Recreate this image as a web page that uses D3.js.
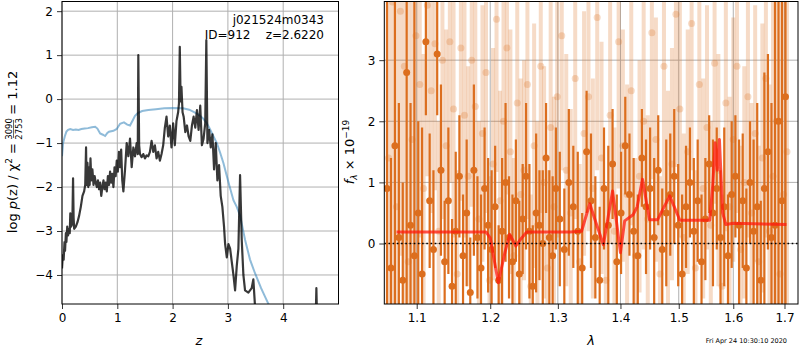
<!DOCTYPE html>
<html>
<head>
<meta charset="utf-8">
<script src="https://cdn.jsdelivr.net/npm/d3@7"></script>
<style>
body { margin: 0; background: #fff; }
text { font-family: "DejaVu Sans", sans-serif; }
</style>
</head>
<body>
<svg id="fig" width="800" height="350"></svg>
<script>
// ---- left panel: log p(z) ----
var pzZ = [0.00,0.015,0.03,0.045,0.055,0.07,0.08,0.095,0.11,0.125,0.14,0.15,0.165,0.18,0.19,0.20,0.21,0.22,0.25,0.28,
  0.31,0.34,0.37,0.40,0.42,0.435,0.445,0.46,0.475,0.49,0.50,0.515,0.53,0.55,0.57,0.59,0.61,0.63,0.65,0.67,
  0.69,0.71,0.73,0.75,0.77,0.79,0.81,0.83,0.85,0.87,0.89,0.91,0.93,0.95,0.97,0.99,1.01,1.03,1.05,1.07,
  1.09,1.11,1.14,1.17,1.20,1.23,1.26,1.29,1.32,1.35,1.37,1.38,1.395,1.41,1.44,1.47,1.50,1.53,1.56,1.59,
  1.62,1.65,1.68,1.71,1.74,1.77,1.80,1.83,1.86,1.89,1.92,1.95,1.98,2.01,2.04,2.07,2.10,2.115,2.13,2.145,
  2.16,2.18,2.20,2.23,2.26,2.29,2.32,2.35,2.38,2.41,2.44,2.47,2.50,2.53,2.56,2.59,2.61,2.63,2.66,2.69,
  2.72,2.75,2.78,2.81,2.84,2.87,2.90,2.93,2.95,2.98,3.01,3.04,3.07,3.10,3.13,3.16,3.19,3.22,3.25,3.28,
  3.31,3.37,3.43,3.46,3.49,3.55,4.57,4.60,4.63,5.00];
var pzLog = [-3.85,-3.55,-3.65,-3.25,-3.45,-3.05,-3.25,-2.9,-3.1,-2.95,-3.05,-2.6,-2.9,-2.85,-2.6,-1.8,-2.7,-2.95,-2.9,-2.8,
  -2.65,-2.45,-2.2,-2.1,-1.95,-1.1,-1.95,-1.45,-2.0,-1.55,-1.95,-1.35,-1.85,-1.6,-1.95,-1.75,-1.9,-2.0,-1.85,-2.05,
  -1.9,-2.2,-2.0,-1.85,-2.05,-1.9,-2.1,-1.75,-1.95,-1.65,-1.9,-1.7,-2.0,-1.55,-1.75,-1.4,-1.65,-1.2,-1.55,-1.15,
  -1.85,-2.1,-1.6,-1.0,-1.3,-0.9,-1.55,-1.1,-1.3,-1.0,-1.25,1.0,-1.05,-1.25,-1.32,-1.25,-1.35,-1.28,-1.3,-1.2,
  -0.95,-1.2,-1.05,-1.35,-1.2,-1.4,-1.25,-1.05,-0.65,-0.4,-0.85,-0.6,-1.1,-0.55,-1.05,-0.5,-0.3,-0.1,1.19,-0.05,
  0.28,-0.3,-0.4,-0.75,-0.6,-0.85,-0.95,-0.6,-0.4,-0.65,-0.25,-0.7,-0.15,-1.05,-0.9,-0.55,1.34,-1.0,-0.7,-1.1,
  -0.8,-1.6,-1.0,-1.85,-1.5,-2.2,-2.45,-2.9,-3.3,-3.6,-3.3,-3.4,-3.7,-4.0,-4.35,-3.8,-3.4,-1.73,-3.2,-4.0,
  -4.35,-4.4,-4.3,-4.1,-4.7,-6,-6,-4.3,-6,-6];

var priorZ = [0,0.02,0.05,0.08,0.11,0.15,0.2,0.25,0.3,0.35,0.41,0.47,0.54,0.6,0.64,0.69,0.74,0.78,0.82,0.85,
  0.93,0.99,1.05,1.12,1.18,1.23,1.28,1.32,1.37,1.45,1.56,1.7,1.85,2.0,2.19,2.3,2.38,2.47,2.55,2.62,
  2.67,2.74,2.8,2.86,2.92,2.98,3.03,3.1,3.16,3.22,3.31,3.4,3.49,3.6,3.73,3.9,4.1];
var priorLog = [-1.3,-1.0,-0.85,-0.74,-0.7,-0.68,-0.7,-0.69,-0.7,-0.68,-0.67,-0.66,-0.64,-0.63,-0.67,-0.78,-0.81,-0.84,-0.77,-0.74,
  -0.72,-0.68,-0.56,-0.53,-0.58,-0.6,-0.48,-0.38,-0.32,-0.27,-0.25,-0.23,-0.21,-0.2,-0.21,-0.24,-0.29,-0.35,-0.44,-0.55,
  -0.67,-0.85,-1.0,-1.22,-1.46,-1.75,-1.98,-2.3,-2.45,-2.65,-3.2,-3.65,-3.96,-4.3,-4.65,-5.1,-5.6];

var zTicks = [0, 1, 2, 3, 4];
var pTicks = [-4, -3, -2, -1, 0, 1, 2];

// ---- right panel: spectrum ----
var darkWave = [1.062,1.067,1.072,1.077,1.082,1.087,1.092,1.097,1.102,1.107,1.112,1.117,1.122,1.127,1.132,1.137,1.142,1.147,1.152,1.157,
  1.162,1.167,1.172,1.177,1.182,1.187,1.192,1.197,1.202,1.207,1.212,1.217,1.222,1.227,1.232,1.237,1.242,1.247,1.252,1.257,
  1.262,1.267,1.272,1.277,1.282,1.287,1.292,1.297,
  1.303,1.310,1.317,1.324,1.331,1.338,1.345,1.352,1.359,1.366,1.373,1.380,1.387,1.394,1.401,1.408,1.415,1.422,1.429,1.436,
  1.443,1.450,1.457,1.464,1.471,1.478,1.485,1.492,1.499,1.506,1.513,1.520,1.527,1.534,1.541,1.548,1.555,1.562,1.569,1.576,
  1.583,1.590,1.597,1.604,1.611,1.618,1.625,1.632,1.639,1.646,1.653,1.660,1.667,1.674,1.681,1.688,1.695,1.702];
var darkFlux = [0.9,-0.4,1.6,0.1,-0.6,2.8,0.3,-0.2,0.5,-0.5,3.3,0.7,-0.1,3.1,1.2,-0.3,0.7,-0.7,0.2,1.1,
  -0.2,0.5,-0.8,1.2,0.1,-0.4,0.9,0.3,-0.1,0.6,-0.6,0.2,1.0,0.1,-0.3,0.7,-0.5,0.4,1.1,0.2,
  -0.7,0.5,0.3,0.0,1.4,0.1,-0.2,0.9,
  0.4,-0.1,1.0,0.6,0.2,-0.4,1.5,0.7,0.1,-0.6,0.9,0.3,1.3,-0.3,0.5,1.6,0.8,0.2,-0.2,1.4,
  0.6,0.9,0.1,1.2,-0.1,0.5,0.8,1.1,0.3,-0.5,0.6,1.0,0.2,0.7,-0.3,0.4,1.3,0.5,0.9,0.1,
  0.6,-0.2,0.8,1.1,0.3,0.7,-0.4,1.0,0.2,0.6,-0.6,0.9,1.5,0.1,0.3,2.0,0.7,2.4];
var darkErr = [5,1.8,5,2.2,1.6,5,2.0,5,1.5,2.4,1.2,1.1,1.3,1.0,1.4,1.0,1.2,1.1,1.3,1.0,
  1.0,1.2,0.9,1.4,1.0,1.2,1.0,1.1,1.3,1.0,0.9,1.2,1.3,1.0,1.1,1.0,1.2,0.9,1.2,1.1,
  1.0,1.3,0.9,1.2,0.9,1.1,1.3,1.0,
  1.1,1.0,1.2,1.0,1.3,0.9,1.0,1.1,1.0,1.2,1.0,1.3,0.9,1.1,1.0,0.8,1.0,1.2,1.0,0.8,
  1.1,1.0,1.3,0.9,1.0,1.2,1.0,1.1,1.0,1.3,1.0,0.9,1.2,1.0,1.1,1.0,0.8,1.2,1.0,1.1,
  1.3,1.0,1.2,1.0,1.4,1.1,1.3,1.0,1.5,1.7,1.3,1.9,1.6,2.2,5,3,5,5];

var lightWave = [1.064,1.069,1.074,1.079,1.084,1.089,1.094,1.099,1.104,1.109,1.114,1.119,1.124,1.129,1.134,1.139,1.144,1.149,1.154,1.159,
  1.164,1.169,1.174,1.179,1.184,1.189,1.194,1.199,1.204,1.209,1.214,1.219,1.224,1.229,1.234,1.239,1.244,1.249,1.254,1.259,
  1.264,1.269,1.274,1.279,1.284,1.289,1.294,1.299,
  1.306,1.313,1.320,1.327,1.334,1.341,1.348,1.355,1.362,1.369,1.376,1.383,1.390,1.397,1.404,1.411,1.418,1.425,1.432,1.439,
  1.446,1.453,1.460,1.467,1.474,1.481,1.488,1.495,1.502,1.509,1.516,1.523,1.530,1.537,1.544,1.551,1.558,1.565,1.572,1.579,
  1.586,1.593,1.600,1.607,1.614,1.621,1.628,1.635,1.642,1.649,1.656,1.663,1.670,1.677,1.684,1.691,1.698,1.705];
var lightFlux = [1.4,3.95,0.6,3.8,2.9,-0.3,1.7,3.4,2.6,0.9,3.9,2.5,3.27,0.2,3.0,1.6,3.3,2.2,-0.5,3.2,
  2.1,1.1,3.0,2.24,0.4,1.8,2.8,-0.6,1.3,3.67,0.7,2.0,3.2,1.5,-0.2,2.3,0.8,1.2,2.6,-0.7,
  1.6,0.3,2.9,1.0,-0.4,1.9,0.6,2.4,
  3.4,1.2,0.5,2.7,-0.3,1.8,2.4,0.9,3.7,1.4,-0.6,2.1,0.2,3.3,1.6,0.8,2.5,-0.2,1.1,2.0,
  0.4,3.45,1.7,-0.5,2.9,0.7,1.3,3.75,2.2,0.1,1.5,3.6,-0.4,2.6,0.9,1.9,0.3,2.95,1.2,-0.7,
  2.3,0.6,1.7,2.9,-0.1,1.0,2.4,0.5,1.8,-0.3,1.4,2.7,0.2,1.1,2.0,-0.5,0.8,1.5];
var lightErr = [5,5,5,4,5,5,4,5,2.5,2.2,2.8,2.0,2.4,1.8,2.6,1.9,2.3,2.1,1.7,2.5,
  2.0,1.8,2.4,2.2,1.6,2.1,2.3,1.7,1.9,2.5,1.8,2.2,2.4,2.0,1.6,2.3,1.9,1.8,2.2,1.5,
  2.0,1.7,2.4,1.9,1.6,2.1,1.8,2.3,
  2.2,1.9,1.7,2.3,1.6,2.0,2.2,1.8,2.5,1.9,1.5,2.1,1.7,2.4,1.9,1.8,2.2,1.6,1.9,2.1,
  1.7,2.4,2.0,1.6,2.3,1.8,1.9,2.5,2.1,1.7,2.0,2.4,1.6,2.2,1.8,2.0,1.7,2.3,1.9,1.5,
  2.1,1.8,2.0,2.4,1.7,1.9,2.3,1.8,2.1,1.9,2.2,2.6,2.4,3,4,5,5,5];

var modelWave = [1.074,1.194,1.200,1.2115,1.221,1.228,1.237,1.244,1.253,1.319,1.337,1.350,1.361,1.372,1.387,1.400,1.407,1.421,1.428,1.437,
  1.449,1.463,1.484,1.502,1.556,1.562,1.566,1.570,1.574,1.580,1.586,1.600,1.704];
var modelFlux = [0.19,0.19,0.09,-0.64,-0.15,0.15,-0.04,0.07,0.19,0.19,0.2,0.65,0.31,-0.02,0.86,-0.15,0.37,0.47,0.6,1.05,
  0.39,0.39,0.78,0.38,0.38,1.0,1.65,1.2,1.7,0.5,0.31,0.33,0.31];

var waveTicks = [1.1, 1.2, 1.3, 1.4, 1.5, 1.6, 1.7];
var fluxTicks = [0, 1, 2, 3];

var svg = d3.select("#fig");
var orange = "#dc6e1e";
var gridCol = "#b0b0b0";

// left panel box
var L = {x0: 62, x1: 338.5, y0: 1.5, y1: 304};
var xz = d3.scaleLinear().domain([0, 5]).range([L.x0, L.x1]);
var yp = d3.scaleLinear().domain([-4.66, 2.22]).range([L.y1, L.y0]);

// right panel box
var R = {x0: 384.3, x1: 798, y0: 1.5, y1: 304};
var xl = d3.scaleLog().domain([1.0586, 1.7274]).range([R.x0, R.x1]);
var yf = d3.scaleLinear().domain([-0.99, 3.96]).range([R.y1, R.y0]);

var defs = svg.append("defs");
defs.append("clipPath").attr("id", "clipL").append("rect")
  .attr("x", L.x0).attr("y", L.y0).attr("width", L.x1 - L.x0).attr("height", L.y1 - L.y0);
defs.append("clipPath").attr("id", "clipR").append("rect")
  .attr("x", R.x0).attr("y", R.y0).attr("width", R.x1 - R.x0).attr("height", R.y1 - R.y0);

function grid(g, xs, ys, xt, yt, box) {
  g.selectAll(".gx").data(xt).enter().append("line")
    .attr("x1", function (d) { return xs(d); }).attr("x2", function (d) { return xs(d); })
    .attr("y1", box.y0).attr("y2", box.y1)
    .attr("stroke", gridCol).attr("stroke-width", 1);
  g.selectAll(".gy").data(yt).enter().append("line")
    .attr("y1", function (d) { return ys(d); }).attr("y2", function (d) { return ys(d); })
    .attr("x1", box.x0).attr("x2", box.x1)
    .attr("stroke", gridCol).attr("stroke-width", 1);
}

function axes(xs, ys, xt, yt, box, xfmt) {
  var gx = svg.append("g").attr("transform", "translate(0," + box.y1 + ")")
    .call(d3.axisBottom(xs).tickValues(xt).tickSize(5).tickPadding(4).tickFormat(xfmt));
  var gy = svg.append("g").attr("transform", "translate(" + box.x0 + ",0)")
    .call(d3.axisLeft(ys).tickValues(yt).tickSize(5).tickPadding(4).tickFormat(d3.format("d")));
  [gx, gy].forEach(function (g) {
    g.select(".domain").remove();
    g.selectAll("text").attr("font-size", 12).attr("fill", "#000")
      .style("font-family", "'DejaVu Sans', sans-serif");
    g.selectAll("line").attr("stroke", "#000").attr("stroke-width", 0.8);
  });
  svg.append("rect").attr("x", box.x0).attr("y", box.y0)
    .attr("width", box.x1 - box.x0).attr("height", box.y1 - box.y0)
    .attr("fill", "none").attr("stroke", "#000").attr("stroke-width", 1);
}

// ---------- left panel ----------
var gl = svg.append("g");
grid(gl, xz, yp, zTicks, pTicks, L);
var pl = gl.append("g").attr("clip-path", "url(#clipL)");
var lineP = d3.line().x(function (d) { return xz(d[0]); }).y(function (d) { return yp(d[1]); });

pl.append("path").datum(d3.zip(priorZ, priorLog))
  .attr("d", lineP).attr("fill", "none")
  .attr("stroke", "#1f77b4").attr("stroke-opacity", 0.5).attr("stroke-width", 2);
pl.append("path").datum(d3.zip(pzZ, pzLog))
  .attr("d", lineP).attr("fill", "none")
  .attr("stroke", "#000").attr("stroke-opacity", 0.78).attr("stroke-width", 2.2)
  .attr("stroke-linejoin", "round");

axes(xz, yp, zTicks, pTicks, L, d3.format("d"));

svg.append("text").attr("x", 324).attr("y", 24).attr("text-anchor", "end")
  .attr("font-size", 12).text("j021524m0343");
svg.append("text").attr("x", 324).attr("y", 39).attr("text-anchor", "end")
  .attr("font-size", 12).attr("xml:space", "preserve").text("ID=912    z=2.6220");

svg.append("text").attr("x", 199).attr("y", 345).attr("text-anchor", "middle")
  .attr("font-size", 13).attr("font-style", "italic").text("z");

// left y label with fraction
var yl = svg.append("g");
var t1 = yl.append("text").attr("font-size", 13).attr("xml:space", "preserve");
t1.append("tspan").text("log ");
t1.append("tspan").attr("font-style", "italic").text("p");
t1.append("tspan").text("(z) / \u03c7");
t1.append("tspan").attr("font-size", 9).attr("dy", -5).text("2");
t1.append("tspan").attr("dy", 5).text(" = ");
var w1 = t1.node().getComputedTextLength();
var fw = 20;
yl.append("text").attr("x", w1 + fw / 2).attr("y", -5).attr("font-size", 8.5)
  .attr("text-anchor", "middle").text("3090");
yl.append("text").attr("x", w1 + fw / 2).attr("y", 4.5).attr("font-size", 8.5)
  .attr("text-anchor", "middle").text("2753");
yl.append("line").attr("x1", w1 + 1).attr("x2", w1 + fw - 1).attr("y1", -3.5).attr("y2", -3.5)
  .attr("stroke", "#000").attr("stroke-width", 0.6);
var t2 = yl.append("text").attr("x", w1 + fw).attr("font-size", 13)
  .attr("xml:space", "preserve").text(" = 1.12");
var wt = w1 + fw + t2.node().getComputedTextLength();
yl.attr("transform", "translate(17,152) rotate(-90) translate(" + (-wt / 2) + ",0)");

// ---------- right panel ----------
var gr = svg.append("g");
grid(gr, xl, yf, waveTicks, fluxTicks, R);
var pr = gr.append("g").attr("clip-path", "url(#clipR)");

var light = d3.zip(lightWave, lightFlux, lightErr);
var dark = d3.zip(darkWave, darkFlux, darkErr);

pr.selectAll(".lb").data(light).enter().append("line")
  .attr("x1", function (d) { return xl(d[0]); }).attr("x2", function (d) { return xl(d[0]); })
  .attr("y1", function (d) { return yf(d[1] - d[2]); }).attr("y2", function (d) { return yf(d[1] + d[2]); })
  .attr("stroke", orange).attr("stroke-opacity", 0.25).attr("stroke-width", 4);
pr.selectAll(".lm").data(light).enter().append("circle")
  .attr("cx", function (d) { return xl(d[0]); }).attr("cy", function (d) { return yf(d[1]); })
  .attr("r", 3.5).attr("fill", orange).attr("fill-opacity", 0.25);

pr.selectAll(".db").data(dark).enter().append("line")
  .attr("x1", function (d) { return xl(d[0]); }).attr("x2", function (d) { return xl(d[0]); })
  .attr("y1", function (d) { return yf(d[1] - d[2]); }).attr("y2", function (d) { return yf(d[1] + d[2]); })
  .attr("stroke", orange).attr("stroke-width", 2.2);
pr.selectAll(".dm").data(dark).enter().append("circle")
  .attr("cx", function (d) { return xl(d[0]); }).attr("cy", function (d) { return yf(d[1]); })
  .attr("r", 3.5).attr("fill", orange);

var lineM = d3.line().x(function (d) { return xl(d[0]); }).y(function (d) { return yf(d[1]); });
pr.append("path").datum(d3.zip(modelWave, modelFlux))
  .attr("d", lineM).attr("fill", "none")
  .attr("stroke", "#ff1a0d").attr("stroke-opacity", 0.75).attr("stroke-width", 3)
  .attr("stroke-linejoin", "round");

pr.append("line").attr("x1", R.x0).attr("x2", R.x1).attr("y1", yf(0)).attr("y2", yf(0))
  .attr("stroke", "#000").attr("stroke-width", 1.6).attr("stroke-dasharray", "1.6,2.6");

axes(xl, yf, waveTicks, fluxTicks, R, d3.format(".1f"));

svg.append("text").attr("x", 591).attr("y", 345).attr("text-anchor", "middle")
  .attr("font-size", 13).attr("font-style", "italic").text("\u03bb");

var fl = svg.append("text").attr("font-size", 13)
  .attr("transform", "translate(354,152) rotate(-90)").attr("text-anchor", "middle");
fl.append("tspan").attr("font-style", "italic").text("f");
fl.append("tspan").attr("font-size", 9).attr("dy", 3).attr("font-style", "italic").text("\u03bb");
fl.append("tspan").attr("dy", -3).text(" \u00d7 10");
fl.append("tspan").attr("font-size", 9).attr("dy", -5).text("\u221219");

svg.append("text").attr("x", 787).attr("y", 343).attr("text-anchor", "end")
  .attr("font-size", 6.5).text("Fri Apr 24 10:30:10 2020");
</script>
</body>
</html>
